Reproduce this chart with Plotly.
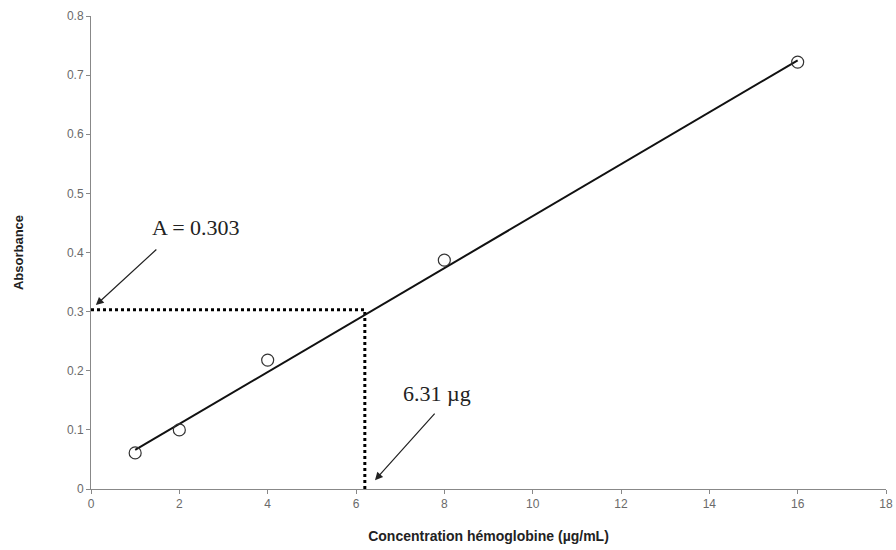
import plotly.graph_objects as go

# Data
conc = [1, 2, 4, 8, 16]
absorb = [0.061, 0.100, 0.218, 0.387, 0.722]
fit_x = [1, 16]
fit_y = [0.066, 0.725]
read_abs = 0.303
read_conc = 6.2
x_ticks = [0, 2, 4, 6, 8, 10, 12, 14, 16, 18]
y_ticks = [0, 0.1, 0.2, 0.3, 0.4, 0.5, 0.6, 0.7, 0.8]

fig = go.Figure()

# dotted guides
fig.add_trace(go.Scatter(x=[0, read_conc], y=[read_abs, read_abs], mode="lines",
                         line=dict(color="black", width=3, dash="dot"), showlegend=False, hoverinfo="skip"))
fig.add_trace(go.Scatter(x=[read_conc, read_conc], y=[0, read_abs], mode="lines",
                         line=dict(color="black", width=3, dash="dot"), showlegend=False, hoverinfo="skip"))
# regression line
fig.add_trace(go.Scatter(x=fit_x, y=fit_y, mode="lines",
                         line=dict(color="#111", width=2), showlegend=False))
# points
fig.add_trace(go.Scatter(x=conc, y=absorb, mode="markers",
                         marker=dict(symbol="circle-open", size=12, color="#333", line=dict(width=1.2)),
                         showlegend=False))

serif = dict(family="Liberation Serif, Times New Roman, serif", size=22, color="#222")
fig.add_annotation(x=2.37, y=0.443, text="A = 0.303", showarrow=False, font=serif)
fig.add_annotation(x=7.83, y=0.162, text="6.31 µg", showarrow=False, font=serif)
fig.add_annotation(x=0.11, y=0.311, ax=62, ay=-57, text="", showarrow=True,
                   arrowhead=2, arrowsize=1.3, arrowwidth=1.2, arrowcolor="#222")
fig.add_annotation(x=6.43, y=0.015, ax=61, ay=-68, text="", showarrow=True,
                   arrowhead=2, arrowsize=1.3, arrowwidth=1.2, arrowcolor="#222")

axis_common = dict(showgrid=False, zeroline=False, showline=True, linecolor="#888", linewidth=1,
                   ticks="outside", ticklen=4, tickcolor="#888", automargin=False,
                   tickfont=dict(family="Liberation Sans, Arial, sans-serif", size=12, color="#6a6a6a"))
fig.update_xaxes(range=[0, 18], tickvals=x_ticks,
                 title=dict(text="<b>Concentration hémoglobine (µg/mL)</b>", standoff=20,
                            font=dict(family="Liberation Sans, Arial, sans-serif", size=14, color="#222")),
                 **axis_common)
fig.update_yaxes(range=[0, 0.8], tickvals=y_ticks, ticktext=["0", "0.1", "0.2", "0.3", "0.4", "0.5", "0.6", "0.7", "0.8"],
                 title=dict(text="<b>Absorbance</b>", standoff=40,
                            font=dict(family="Liberation Sans, Arial, sans-serif", size=13, color="#222")),
                 **axis_common)
fig.update_layout(width=896, height=550, plot_bgcolor="white", paper_bgcolor="white",
                  margin=dict(l=91, r=10, t=16, b=61, autoexpand=False))
fig.write_html("out.html", config={"displayModeBar": False})

# remove the default page margin so the figure sits at the window's top-left corner
with open("out.html", encoding="utf-8") as f:
    html = f.read()
html = html.replace("<body>", '<body style="margin:0;overflow:hidden">', 1)
with open("out.html", "w", encoding="utf-8") as f:
    f.write(html)
